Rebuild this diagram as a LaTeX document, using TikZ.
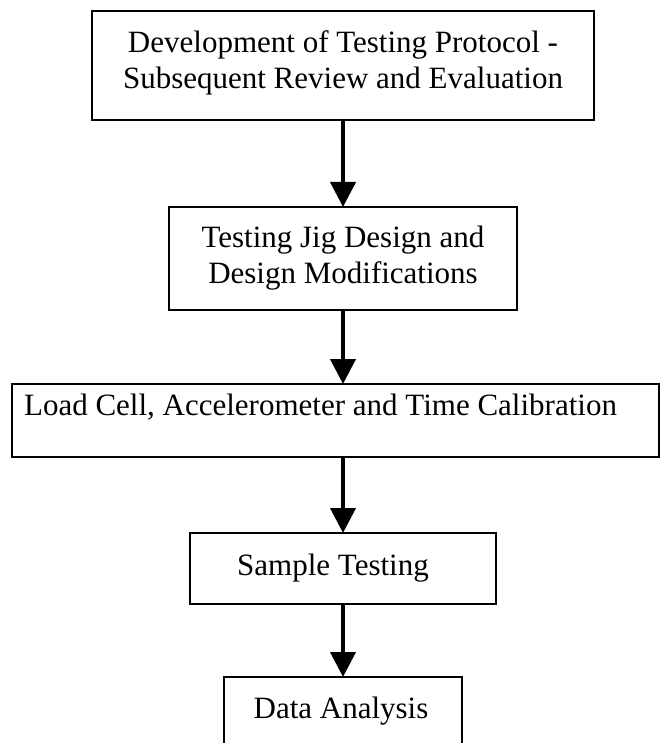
\documentclass[tikz,border=0pt]{standalone}
\usepackage{fontspec}
\setmainfont{Liberation Serif}
\usetikzlibrary{arrows.meta}
\newcommand{\flowtxt}[4]{\parbox[c][#2][t]{#1}{\centering\vspace*{#3}\strut #4}}
\tikzset{
  flowbox/.style={draw, line width=2pt, inner sep=0pt, outer sep=0pt,
    font=\fontsize{31}{36}\selectfont},
  openbox/.style={draw=none, inner sep=0pt, outer sep=0pt,
    font=\fontsize{31}{36}\selectfont},
  flowarrow/.style={line width=4pt, -{Triangle[width=25pt,length=25pt]}}
}
\begin{document}
\begin{tikzpicture}[x=1pt,y=-1pt]
\useasboundingbox (0,0) rectangle (660,743);
\node[flowbox] (a) at (343,65.5)
  {\flowtxt{502pt}{109pt}{16pt}{Development of Testing Protocol -\\Subsequent Review and Evaluation}};
\node[flowbox] (b) at (343,258.5)
  {\flowtxt{348pt}{103pt}{15pt}{Testing Jig Design and\\Design Modifications}};
\node[flowbox] (c) at (335.5,420.5)
  {\flowtxt{647pt}{73pt}{6pt}{Load Cell, Accelerometer and Time Calibration\hspace*{30pt}}};
\node[flowbox] (d) at (343,568.5)
  {\flowtxt{306pt}{71pt}{17pt}{Sample Testing\hspace*{20pt}}};
\node[openbox] (e) at (343,711)
  {\flowtxt{238pt}{68pt}{16pt}{Data Analysis\hspace*{4pt}}};
\draw[line width=2pt] (e.south west) -- (e.north west) -- (e.north east) -- (e.south east);
\draw[flowarrow] (a.south) -- (b.north);
\draw[flowarrow] (b.south) -- (b.south |- c.north);
\draw[flowarrow] (b.south |- c.south) -- (d.north);
\draw[flowarrow] (d.south) -- (e.north);
\end{tikzpicture}
\end{document}
